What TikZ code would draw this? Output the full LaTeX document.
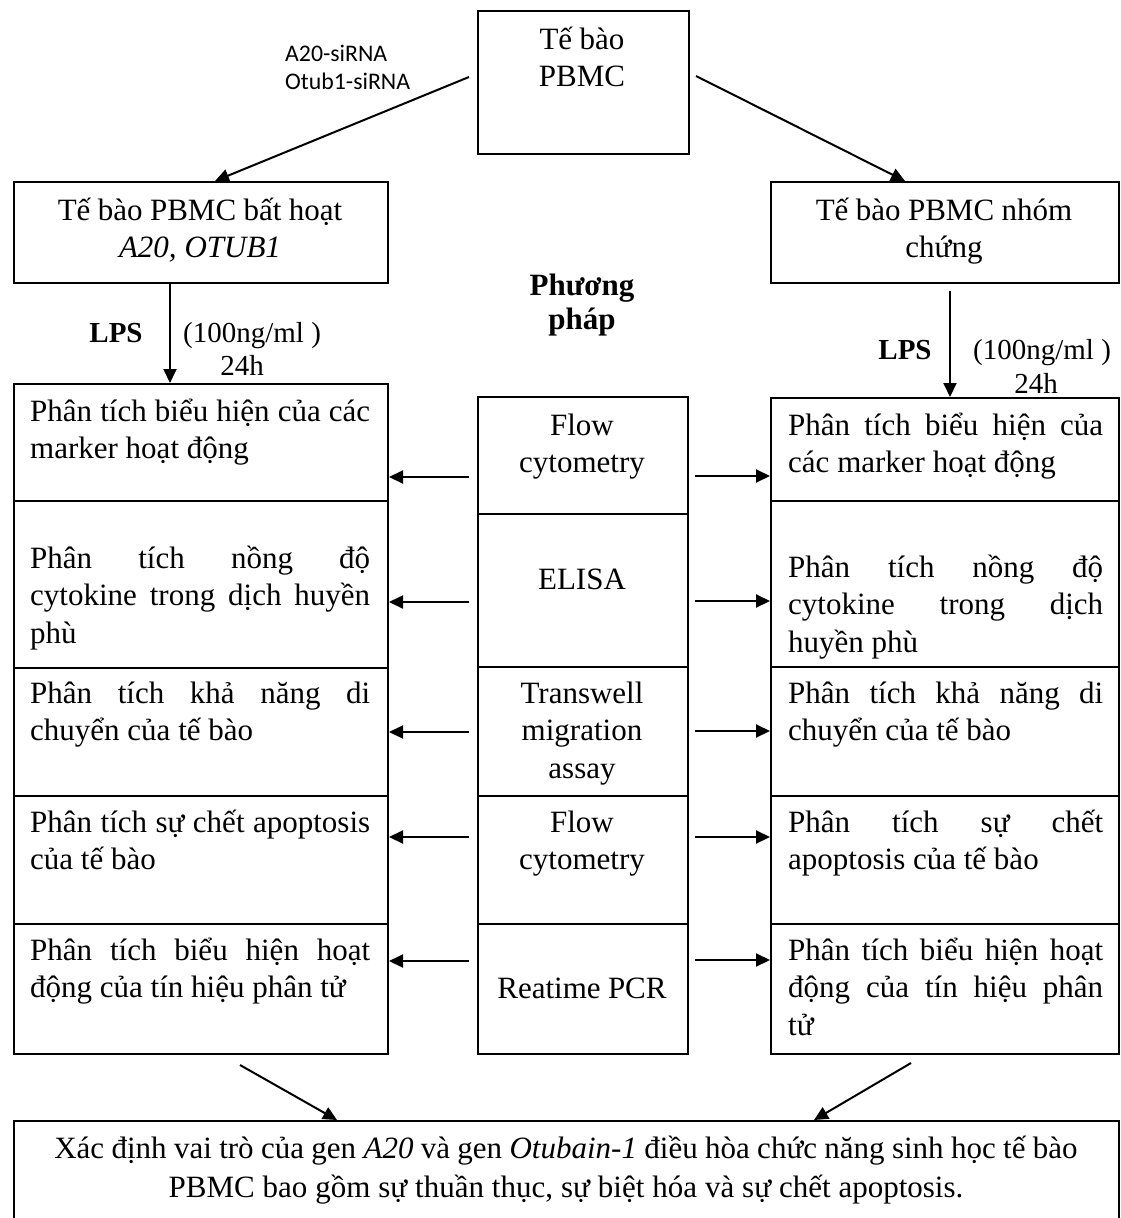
\documentclass[tikz,border=0pt]{standalone}
\usepackage{fontspec}
\setmainfont{Liberation Serif}
\newfontfamily\lblfont{Carlito}
\usetikzlibrary{arrows.meta}
\hyphenpenalty=10000
\exhyphenpenalty=10000
\tolerance=10000
\hbadness=10000
\newcommand{\tightsp}{\spaceskip=7.2pt plus 0.3pt minus 0.3pt\relax}
\begin{document}
\begin{tikzpicture}[x=1pt,y=-1pt,
  cell/.style={draw, line width=2pt, inner sep=0pt, anchor=north west},
  body/.style={inner sep=0pt, font=\fontsize{31}{37.5}\selectfont},
  jl/.style={body, text width=340pt, align=justify, anchor=base west},
  jr/.style={body, text width=315pt, align=justify, anchor=base west},
  cen/.style={body, text width=#1, align=center, anchor=base},
  cen/.default=200pt,
  lbl/.style={inner sep=0pt, font=\fontsize{29}{34}\selectfont},
  sans/.style={inner sep=0pt, font=\lblfont\fontsize{23.8}{28}\selectfont, anchor=base west, align=left, text width=140pt},
  arr/.style={line width=2pt, -{Triangle[length=14pt,width=13pt]}}
]
\useasboundingbox (0,0) rectangle (1120,1218);

% top boxes
\node[cell, minimum width=211pt, minimum height=143pt] (top) at (477,10) {};
\node[cen] (ttop) at (582,49) {\tightsp Tế bào\\PBMC};
\node[cell, minimum width=374pt, minimum height=101pt] (L0) at (13,181) {};
\node[cen=360pt] (tL0) at (200,220) {\tightsp Tế bào PBMC bất hoạt\\\textit{A20, OTUB1}};
\node[cell, minimum width=348pt, minimum height=101pt] (R0) at (770,181) {};
\node[cen=340pt] (tR0) at (944,220) {\tightsp Tế bào PBMC nhóm\\chứng};

\node[sans] (sirna) at (285,61) {A20-siRNA\\Otub1-siRNA};
\node[cen, font=\fontsize{31}{34}\selectfont\bfseries] (pp) at (582,295) {Phương\\pháp};

% LPS labels
\node[lbl, font=\fontsize{29}{34}\selectfont\bfseries, anchor=base] (lpsL) at (116,342) {LPS};
\node[lbl, anchor=base west] (concL) at (183,342) {(100ng/ml )};
\node[lbl, anchor=base] (hL) at (242,375) {24h};
\node[lbl, font=\fontsize{29}{34}\selectfont\bfseries, anchor=base] (lpsR) at (905,359) {LPS};
\node[lbl, anchor=base west] (concR) at (973,359) {(100ng/ml )};
\node[lbl, anchor=base] (hR) at (1036,393) {24h};

% left column
\node[cell, minimum width=374pt, minimum height=117pt] (L1) at (13,383) {};
\node[cell, minimum width=374pt, minimum height=167pt] (L2) at (13,500) {};
\node[cell, minimum width=374pt, minimum height=128pt] (L3) at (13,667) {};
\node[cell, minimum width=374pt, minimum height=128pt] (L4) at (13,795) {};
\node[cell, minimum width=374pt, minimum height=130pt] (L5) at (13,923) {};
\node[jl] (tL1) at (30,421) {Phân tích biểu hiện của các\linebreak marker hoạt động};
\node[jl] (tL2) at (30,568) {Phân tích nồng độ\linebreak cytokine trong dịch huyền\linebreak phù};
\node[jl] (tL3) at (30,703) {Phân tích khả năng di\linebreak chuyển của tế bào};
\node[jl] (tL4) at (30,832) {Phân tích sự chết apoptosis\linebreak của tế bào};
\node[jl] (tL5) at (30,960) {Phân tích biểu hiện hoạt\linebreak động của tín hiệu phân tử};

% middle column
\node[cell, minimum width=210pt, minimum height=117pt] (M1) at (477,396) {};
\node[cell, minimum width=210pt, minimum height=153pt] (M2) at (477,513) {};
\node[cell, minimum width=210pt, minimum height=129pt] (M3) at (477,666) {};
\node[cell, minimum width=210pt, minimum height=128pt] (M4) at (477,795) {};
\node[cell, minimum width=210pt, minimum height=130pt] (M5) at (477,923) {};
\node[cen] (tM1) at (582,435) {Flow\\cytometry};
\node[cen] (tM2) at (582,589) {ELISA};
\node[cen] (tM3) at (582,703) {Transwell\\migration\\assay};
\node[cen] (tM4) at (582,832) {Flow\\cytometry};
\node[cen] (tM5) at (582,998) {\tightsp Reatime PCR};

% right column
\node[cell, minimum width=348pt, minimum height=103pt] (R1) at (770,397) {};
\node[cell, minimum width=348pt, minimum height=166pt] (R2) at (770,500) {};
\node[cell, minimum width=348pt, minimum height=129pt] (R3) at (770,666) {};
\node[cell, minimum width=348pt, minimum height=128pt] (R4) at (770,795) {};
\node[cell, minimum width=348pt, minimum height=130pt] (R5) at (770,923) {};
\node[jr] (tR1) at (788,435) {Phân tích biểu hiện của\linebreak các marker hoạt động};
\node[jr] (tR2) at (788,577) {Phân tích nồng độ\linebreak cytokine trong dịch\linebreak huyền phù};
\node[jr] (tR3) at (788,703) {Phân tích khả năng di\linebreak chuyển của tế bào};
\node[jr] (tR4) at (788,832) {Phân tích sự chết\linebreak apoptosis của tế bào};
\node[jr] (tR5) at (788,960) {Phân tích biểu hiện hoạt\linebreak động của tín hiệu phân\linebreak tử};

% bottom box
\node[cell, minimum width=1105pt, minimum height=110pt] (bot) at (13,1120) {};
\node[cen=1090pt, font=\fontsize{31}{39}\selectfont] (tbot) at (566,1158) {\tightsp Xác định vai trò của gen \textit{A20} và gen \textit{Otubain-1} điều hòa chức năng sinh học tế bào\\PBMC bao gồm sự thuần thục, sự biệt hóa và sự chết apoptosis.};

% connectors
\coordinate (bl) at (240,1065);
\coordinate (br) at (911,1063);
\draw[arr] ([xshift=-8pt,yshift=5.5pt]top.west) -- (L0.north -| 215,0);
\draw[arr] ([xshift=6pt,yshift=6.5pt]top.east) -- (R0.north -| 905,0);
\draw[arr] (L0.south -| 170,0) -- (L1.north -| 170,0);
\draw[arr] ([yshift=-7pt]R0.south -| 950,0) -- (R1.north -| 950,0);

\draw[arr, shorten <=8pt] (M1.west |- 0,477) -- (L1.east |- 0,477);
\draw[arr, shorten <=8pt] (M2.west |- 0,602) -- (L2.east |- 0,602);
\draw[arr, shorten <=8pt] (M3.west |- 0,732) -- (L3.east |- 0,732);
\draw[arr, shorten <=8pt] (M4.west |- 0,837) -- (L4.east |- 0,837);
\draw[arr, shorten <=8pt] (M5.west |- 0,961) -- (L5.east |- 0,961);
\draw[arr, shorten <=6pt] (M1.east |- 0,476) -- (R1.west |- 0,476);
\draw[arr, shorten <=6pt] (M2.east |- 0,601) -- (R2.west |- 0,601);
\draw[arr, shorten <=6pt] (M3.east |- 0,731) -- (R3.west |- 0,731);
\draw[arr, shorten <=6pt] (M4.east |- 0,837) -- (R4.west |- 0,837);
\draw[arr, shorten <=6pt] (M5.east |- 0,960) -- (R5.west |- 0,960);

\draw[arr] (bl) -- (bot.north -| 337,0);
\draw[arr] (br) -- (bot.north -| 814,0);
\end{tikzpicture}
\end{document}
